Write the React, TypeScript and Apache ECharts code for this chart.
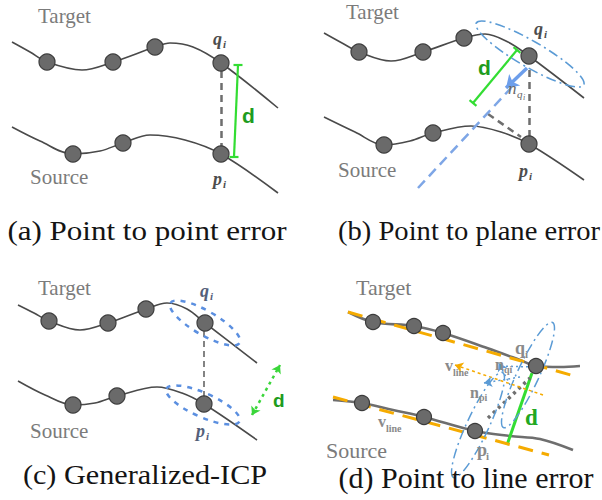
import React, { useEffect, useRef } from "react";
import * as echarts from "echarts";

const W = 602;
const H = 500;

// ---------- Panel (a) Point to point ----------
const aTargetCurve = [[12,42],[30,52],[47,62],[82,70],[113,62],[155,47],[170,43],[193,47],[221,63],[278,108]];
const aTargetDots = [[47,62],[113,62],[155,47],[221,63]];
const aSourceCurve = [[12,127],[40,141],[73,154],[100,151],[123,143],[150,135],[185,140],[221,154],[278,193]];
const aSourceDots = [[73,154],[123,143],[221,154]];
const aGrayDash = [[[221,71],[221,147]]];
const aGreen = [[238,65],[234,157]];

// ---------- Panel (b) Point to plane ----------
const bTargetCurve = [[324,33],[342,43],[359,52],[391,61],[423,52],[464,38],[485,34],[508,42],[529,56],[584,98]];
const bTargetDots = [[359,52],[423,52],[464,38],[529,56]];
const bSourceCurve = [[324,117],[355,132],[384,145],[410,141],[433,133],[471,126],[501,132],[529,144],[584,180]];
const bSourceDots = [[384,145],[433,133],[529,144]];
const bGrayDash = [[[529,70],[529,137]],[[488,114],[521,137]]];
const bGreen = [[517,50],[473,103]];
const bBlueDash = [[418,188],[511,88]];
const bNormalArrow = [[527,68],[506,88]];
const bEllipses = [[530,54,62,13,-30]];

// ---------- Panel (c) Generalized-ICP ----------
const cTargetCurve = [[18,305],[34,313],[49,321],[80,330],[108,323],[146,309],[167,303],[187,309],[205,323],[257,363]];
const cTargetDots = [[49,321],[108,323],[146,309],[205,323]];
const cSourceCurve = [[18,381],[45,395],[73,405],[95,403],[117,396],[157,387],[182,393],[204,404],[257,440]];
const cSourceDots = [[73,405],[117,396],[204,404]];
const cGrayDash = [[[204,331],[204,397]]];
const cGreenArrow = [[252,415],[280,365]];
const cEllipses = [[205,323,40,12,-30],[203,405,40,12,-24]];

// ---------- Panel (d) Point to line ----------
const dTargetCurve = [[348,312],[373,322],[414,326],[443,333],[487,348],[520,360],[536,366],[560,367],[580,366]];
const dTargetDots = [[373,322],[414,326],[443,333],[536,366]];
const dSourceCurve = [[333,400],[362,403],[393,410],[424,417],[475,431],[510,436],[540,439],[573,450]];
const dSourceDots = [[362,403],[424,417],[475,431]];
const dOrangeLines = [[[348,312],[578,377]],[[333,397],[549,455]]];
const dGreen = [[532,373],[507,445]];
const dGrayDotted = [[488,418],[530,378]];
const dOrangeArrow = [[543,395],[455,365]];
const dBlueArrows = [[[510,385],[499,363]],[[520,377],[484,383]]];
const dBlueDotted = [[533,367],[500,366]];
const dEllipses = [[528,375,58,11,65],[478,425,58,11,65]];

// colours
const CURVE = "#4a4a4a";
const GRAYTXT = "#7b7b7b";
const GREEN = "#33dd33";
const GREEN_TXT = "#1e9c1e";
const BLUE = "#5b9bd5";
const ORANGE = "#f5ab00";
const SERIF = "'Liberation Serif', 'Times New Roman', Times, serif";
const SANS = "'Liberation Sans', Arial, sans-serif";

function caps(seg: number[][], len: number) {
  const [[x1, y1], [x2, y2]] = seg;
  const dx = x2 - x1, dy = y2 - y1;
  const l = Math.hypot(dx, dy);
  const px = (-dy / l) * len / 2, py = (dx / l) * len / 2;
  return [
    [[x1 - px, y1 - py], [x1 + px, y1 + py]],
    [[x2 - px, y2 - py], [x2 + px, y2 + py]],
  ];
}

function seg(coords: number[][], lineStyle: any) {
  return { coords, lineStyle: { opacity: 1, ...lineStyle } };
}

function curve(data: number[][], width: number, color: string) {
  return {
    type: "line", data, smooth: 0.35, symbol: "none", silent: true, z: 2,
    lineStyle: { color, width },
  };
}
function dots(data: number[][], size: number) {
  return {
    type: "scatter", data, symbolSize: size, silent: true, z: 6,
    itemStyle: { color: "#6a6a6a", borderColor: "#3c3c3c", borderWidth: 1.2, opacity: 1 },
  };
}
function ellipses(data: number[][], stroke: string, width: number, dash: number[]) {
  return {
    type: "custom", data, silent: true, z: 4,
    renderItem: (params: any, api: any) => {
      const p = api.coord([api.value(0), api.value(1)]);
      return {
        type: "ellipse",
        x: p[0], y: p[1],
        rotation: (api.value(4) * Math.PI) / 180,
        shape: { cx: 0, cy: 0, rx: api.value(2), ry: api.value(3) },
        style: { fill: "none", stroke, lineWidth: width, lineDash: dash },
      };
    },
  };
}

function txt(x: number, base: number, text: string, size: number, o: any = {}) {
  return {
    type: "text", x, y: base - 0.34 * size, silent: true, z: 100,
    scaleX: o.scaleX || 1,
    style: {
      text, fontSize: size,
      fontFamily: o.family || SERIF,
      fontWeight: o.weight || "normal",
      fontStyle: o.style || "normal",
      fill: o.color || GRAYTXT,
      align: o.align || "left",
      verticalAlign: "middle",
    },
  };
}

const qiStyle = { weight: "bold", style: "italic", color: "#4d4d4d" };
const dLbl = { weight: "bold", color: "#8a8a8a" };
const capStyle = { color: "#141414", align: "center" };
const dStyle = { family: SANS, weight: "bold", color: GREEN_TXT };

const texts = [
  // panel a
  txt(38, 23, "Target", 21), txt(30, 184, "Source", 21),
  txt(213, 45, "q", 18, qiStyle), txt(223, 48, "i", 11, qiStyle),
  txt(213, 185, "p", 18, qiStyle), txt(223, 188, "i", 11, qiStyle),
  txt(242, 123, "d", 21, dStyle),
  txt(147, 240, "(a) Point to point error", 27, { ...capStyle, scaleX: 1.15 }),
  // panel b
  txt(346, 19, "Target", 21), txt(338, 177, "Source", 21),
  txt(534, 35, "q", 18, qiStyle), txt(544, 38, "i", 11, qiStyle),
  txt(519, 177, "p", 18, qiStyle), txt(529, 180, "i", 11, qiStyle),
  txt(508, 94, "n", 17, { style: "italic", color: "#666" }),
  txt(517, 98, "q", 11, { style: "italic", color: "#666" }),
  txt(523, 100, "i", 8, { style: "italic", color: "#666" }),
  txt(478, 75, "d", 21, dStyle),
  txt(469, 240, "(b) Point to plane error", 27, { ...capStyle, scaleX: 1.06 }),
  // panel c
  txt(38, 295, "Target", 21), txt(30, 438, "Source", 21),
  txt(200, 297, "q", 18, { ...qiStyle, color: "#55607a" }), txt(210, 300, "i", 11, { ...qiStyle, color: "#55607a" }),
  txt(196, 437, "p", 18, { ...qiStyle, color: "#55607a" }), txt(206, 440, "i", 11, { ...qiStyle, color: "#55607a" }),
  txt(273, 407, "d", 19, dStyle),
  txt(145, 484, "(c) Generalized-ICP", 27, { ...capStyle, scaleX: 1.12 }),
  // panel d
  txt(356, 295, "Target", 22), txt(326, 458, "Source", 22),
  txt(515, 354, "q", 18, dLbl), txt(525, 358, "i", 11, dLbl),
  txt(495, 370, "n", 16, dLbl), txt(504, 373, "qi", 10, dLbl),
  txt(445, 371, "v", 16, dLbl), txt(453, 376, "line", 10, dLbl),
  txt(470, 398, "n", 16, dLbl), txt(479, 401, "pi", 10, dLbl),
  txt(477, 456, "p", 18, dLbl), txt(486, 460, "i", 11, dLbl),
  txt(378, 427, "v", 16, dLbl), txt(386, 432, "line", 10, dLbl),
  txt(525, 425, "d", 23, { weight: "bold", color: "#22a722" }),
  txt(466, 488, "(d) Point to line error", 30, { ...capStyle, scaleX: 1.0 }),
];

const grayDash = { color: "#6e6e6e", width: 2.5, type: [7, 5] };
const greenSolid = { color: GREEN, width: 2.2, type: "solid" };

const plainSegs = [
  ...aGrayDash.map((s) => seg(s, grayDash)),
  ...bGrayDash.map((s) => seg(s, grayDash)),
  ...cGrayDash.map((s) => seg(s, { color: "#777777", width: 1.8, type: [6, 4] })),
  seg(aGreen, greenSolid), ...caps(aGreen, 9).map((s) => seg(s, greenSolid)),
  seg(bGreen, greenSolid), ...caps(bGreen, 9).map((s) => seg(s, greenSolid)),
  seg(dGreen, { color: GREEN, width: 3, type: "solid" }),
  seg(bBlueDash, { color: "#7ea6e6", width: 2.5, type: [10, 6] }),
  ...dOrangeLines.map((s) => seg(s, { color: ORANGE, width: 3, type: [15, 9] })),
  seg(dGrayDotted, { color: "#707070", width: 3.5, type: [3, 4] }),
  seg(dBlueDotted, { color: BLUE, width: 1.5, type: [2, 3] }),
];

const option = {
  animation: false,
  backgroundColor: "#ffffff",
  grid: { left: 0, right: 0, top: 0, bottom: 0 },
  xAxis: { type: "value", min: 0, max: W, show: false },
  yAxis: { type: "value", min: 0, max: H, inverse: true, show: false },
  series: [
    curve(aTargetCurve, 1.6, CURVE), curve(aSourceCurve, 1.6, CURVE),
    curve(bTargetCurve, 1.6, CURVE), curve(bSourceCurve, 1.6, CURVE),
    curve(cTargetCurve, 1.6, CURVE), curve(cSourceCurve, 1.6, CURVE),
    curve(dTargetCurve, 2.6, "#6e6e6e"), curve(dSourceCurve, 2.6, "#6e6e6e"),
    {
      type: "lines", coordinateSystem: "cartesian2d", silent: true, z: 3,
      symbol: "none", data: plainSegs,
    },
    {
      type: "lines", coordinateSystem: "cartesian2d", silent: true, z: 7,
      symbol: ["none", "arrow"], symbolSize: 12,
      data: [seg(bNormalArrow, { color: "#6d9eeb", width: 3.5, type: "solid" })],
    },
    {
      type: "lines", coordinateSystem: "cartesian2d", silent: true, z: 7,
      symbol: ["arrow", "arrow"], symbolSize: 8,
      data: [seg(cGreenArrow, { color: "#3ad63a", width: 2.5, type: [3, 4] })],
    },
    {
      type: "lines", coordinateSystem: "cartesian2d", silent: true, z: 7,
      symbol: ["none", "arrow"], symbolSize: 8,
      data: [
        seg(dOrangeArrow, { color: ORANGE, width: 1.5, type: [3, 3] }),
        ...dBlueArrows.map((s) => seg(s, { color: BLUE, width: 1.5, type: [2, 3] })),
      ],
    },
    ellipses(bEllipses, BLUE, 1.6, [10, 4, 2, 4]),
    ellipses(cEllipses, "#5b8fe0", 2.5, [5, 6]),
    ellipses(dEllipses, BLUE, 1.5, [10, 4, 2, 4]),
    dots(aTargetDots, 16), dots(aSourceDots, 16),
    dots(bTargetDots, 16), dots(bSourceDots, 16),
    dots(cTargetDots, 16), dots(cSourceDots, 16),
    dots(dTargetDots, 15), dots(dSourceDots, 15),
  ],
  graphic: texts,
};

export default function App() {
  const ref = useRef<HTMLDivElement>(null);
  useEffect(() => {
    const chart = echarts.init(ref.current as HTMLDivElement, null, { renderer: "svg" });
    chart.setOption(option as any);
    return () => chart.dispose();
  }, []);
  return (
    <div
      ref={ref}
      style={{ position: "absolute", left: 0, top: 0, width: W, height: H, background: "#fff" }}
    />
  );
}
